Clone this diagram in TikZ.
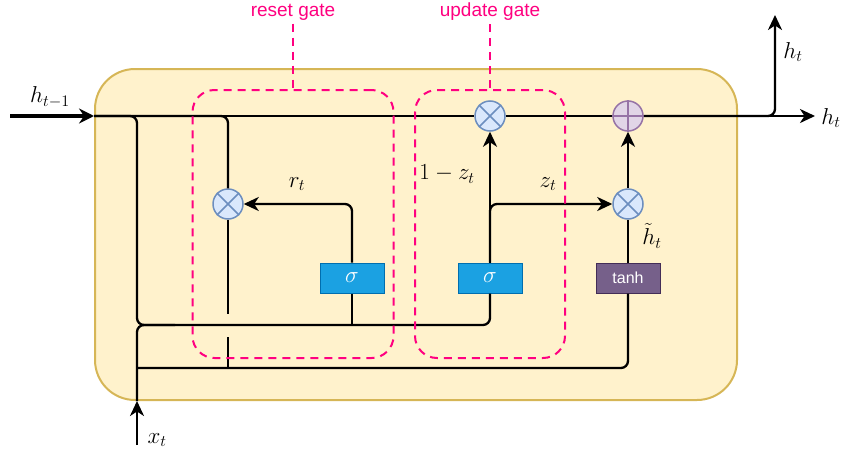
\RequirePackage{fix-cm}
\documentclass[tikz,border=0pt]{standalone}
\usepackage{amsmath,amssymb}
\usepackage{fontspec}
\newfontfamily\gatefont{Liberation Sans}
\usepackage{tikz}
\usetikzlibrary{arrows.meta}

\definecolor{cellfill}{HTML}{FFF2CC}
\definecolor{celldraw}{HTML}{D6B656}
\definecolor{gatepink}{HTML}{FF0080}
\definecolor{sigfill}{HTML}{1BA1E2}
\definecolor{sigdraw}{HTML}{006EAF}
\definecolor{tanhfill}{HTML}{76608A}
\definecolor{tanhdraw}{HTML}{432D57}
\definecolor{mulfill}{HTML}{DAE8FC}
\definecolor{muldraw}{HTML}{6C8EBF}
\definecolor{addfill}{HTML}{E1D5E7}
\definecolor{adddraw}{HTML}{9673A6}

\begin{document}
\begin{tikzpicture}[x=1pt, y=-1pt,
  font=\fontsize{23}{27}\selectfont,
  wire/.style={line width=2.3pt, rounded corners=7pt},
  arr/.style={-{Stealth[length=15pt, width=14pt, inset=4.5pt]}},
  cellbox/.style={draw=celldraw, fill=cellfill, line width=2pt, rounded corners=40pt,
    minimum width=642pt, minimum height=331pt, inner sep=0pt},
  gatebox/.style={draw=gatepink, line width=2pt, dash pattern=on 8pt off 6pt,
    rounded corners=22pt, minimum height=268pt, inner sep=0pt},
  gatetext/.style={text=gatepink, font=\gatefont\fontsize{19}{21}\selectfont},
  gateline/.style={draw=gatepink, line width=2pt, dash pattern=on 8pt off 6pt},
  sigbox/.style={draw=sigdraw, fill=sigfill, line width=1pt, text=white,
    minimum width=64pt, minimum height=30pt, inner sep=0pt},
  tanhbox/.style={draw=tanhdraw, fill=tanhfill, line width=1pt, text=white,
    font=\gatefont\fontsize{16}{18}\selectfont,
    minimum width=64pt, minimum height=30pt, inner sep=0pt},
  mul/.style={circle, draw=muldraw, fill=mulfill, line width=1.5pt, minimum size=30pt, inner sep=0pt},
  plus/.style={circle, draw=adddraw, fill=addfill, line width=1.5pt, minimum size=30pt, inner sep=0pt},
  lbl/.style={inner sep=1pt}]
\useasboundingbox (0,0) rectangle (842,455);

% the cell
\node[cellbox] (cell) at (416,234.5) {};

% operations
\node[sigbox] (sigr) at (352,278) {$\sigma$};
\node[sigbox] (sigu) at (490,278) {$\sigma$};
\node[tanhbox] (tanh) at (628,278) {tanh};
\node[mul] (rm) at (228,204) {};
\node[mul] (um) at (490,116) {};
\node[mul] (hm) at (628,204) {};
\node[plus] (add) at (628,116) {};
\foreach \g in {rm,um,hm}
  \draw[muldraw, line width=1.5pt] (\g.north west) -- (\g.south east) (\g.north east) -- (\g.south west);
\draw[adddraw, line width=1.5pt] (add.north) -- (add.south) (add.west) -- (add.east);

% ends and joints
\coordinate (hin) at (10,116);
\coordinate (hcell) at (cell.west |- hin);
\coordinate (hout) at (815,116);
\coordinate (hup) at (775,15);
\coordinate (xin) at (137,445);
\coordinate (xcell) at (cell.south -| xin);
\coordinate (jtop) at (137,325);
\coordinate (jmid) at (175,325);
\coordinate (jbot) at (137,368);
\coordinate (rgapa) at (228,314);
\coordinate (rgapb) at (228,337);
\coordinate (rjoin) at (228,368);

% wires
\draw[line width=4pt, -{Stealth[length=15pt, width=15pt, inset=5pt]}] (hin) -- (hcell);
\draw[wire] (hcell) -- (um) -- (add);
\draw[wire, arr] (add) -- (hout);
\draw[wire, arr] (add) -| (hup);
\draw[wire] (hcell) -| (jtop) -| (sigu);
\draw[wire] (hcell) -| (rm);
\draw[wire, arr] (sigr) |- (rm);
\draw[wire] (sigr) -- (sigr |- jtop);
\draw[wire] (rm) -- (rgapa) (rgapb) -- (rjoin);
\draw[wire, arr] (xin) -- (xcell);
\draw[wire] (xcell) |- (jmid);
\draw[wire] (jbot) -| (tanh);
\draw[wire, arr] (sigu) -- (um);
\draw[wire, arr] (sigu) |- (hm);
\draw[wire] (tanh) -- (hm);
\draw[wire, arr] (hm) -- (add);

% gates
\node[gatebox, minimum width=201pt] (rgate) at (293,224) {};
\node[gatebox, minimum width=150pt] (ugate) at (490,224) {};
\node[gatetext] (rlbl) at (293,12) {reset gate};
\node[gatetext] (ulbl) at (490,12) {update gate};
\draw[gateline] (rlbl) -- (rgate.north);
\draw[gateline] (ulbl) -- (ugate.north);

% labels
\node[lbl] (lhin) at (50,97) {$h_{t-1}$};
\node[lbl] (lhup) at (793,52) {$h_t$};
\node[lbl] (lhout) at (831,118) {$h_t$};
\node[lbl] (lx) at (157,440) {$x_t$};
\node[lbl] (lr) at (297,184) {$r_t$};
\node[lbl] (lz1) at (447,174) {$1-z_t$};
\node[lbl] (lz) at (548,184) {$z_t$};
\node[lbl] (lh) at (652,236) {$\tilde{h}_t$};
\end{tikzpicture}
\end{document}
